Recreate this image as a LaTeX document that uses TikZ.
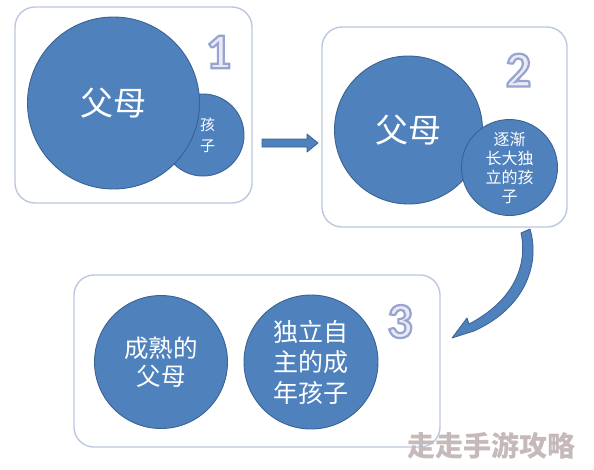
\documentclass[tikz,border=0pt]{standalone}
\usepackage{fontspec}
\newfontfamily\cjk{Noto Sans CJK SC}
\newfontfamily\digitfont{Carlito}
\definecolor{circblue}{HTML}{4F81BD}
\definecolor{circline}{HTML}{3A6293}
\definecolor{boxline}{HTML}{BCC8E0}
\definecolor{digitfill}{HTML}{E8EBF6}
\definecolor{wmark}{HTML}{C6B9BA}
\newcommand{\outlinedigit}[1]{\special{pdf:literal direct 2 Tr 2.2 w 0.60 0.64 0.82 RG}#1\special{pdf:literal direct 0 Tr}}
\begin{document}
\begin{tikzpicture}[x=1pt,y=-1pt,
  stagebox/.style={draw=boxline,line width=1.4pt,rounded corners=20pt,fill=white,inner sep=0pt},
  bigcirc/.style={circle,draw=circline,line width=0.9pt,fill=circblue,inner sep=0pt,text=white,align=center},
  digit/.style={text=digitfill,inner sep=0pt,font=\digitfont\bfseries\fontsize{50}{50}\selectfont},
  blockarrow/.style={fill=circblue,draw=circline,line width=0.8pt,line join=round}]
\useasboundingbox (0,0) rectangle (594,469);
\fill[white] (0,0) rectangle (594,469);
% boxes
\node[stagebox,minimum width=237pt,minimum height=196pt] (box1) at (133.5,105) {};
\node[stagebox,minimum width=245pt,minimum height=200pt] (box2) at (444.5,127) {};
\node[stagebox,minimum width=366pt,minimum height=172pt] (box3) at (257,361) {};
% stage 1
\node[bigcirc,minimum size=82pt,font=\cjk\fontsize{15}{21}\selectfont] (kid1) at (203,135) {\hspace*{9pt}孩\\\hspace*{9pt}子};
\node[bigcirc,minimum size=172pt,font=\cjk\fontsize{33}{40}\selectfont] (par1) at (113.5,103) {父母};
\node[digit] (d1) at (218.5,52) {\outlinedigit{1}};
% stage 2
\node[bigcirc,minimum size=148pt,font=\cjk\fontsize{33}{40}\selectfont] (par2) at (408.5,130) {父母};
\node[bigcirc,minimum size=96pt,font=\cjk\fontsize{16}{19}\selectfont] (kid2) at (509.5,167.5) {逐渐\\长大独\\立的孩\\子};
\node[digit] (d2) at (518.5,70) {\outlinedigit{2}};
% stage 3
\node[bigcirc,minimum size=133pt,font=\cjk\fontsize{24.5}{28}\selectfont] (par3) at (161,362) {成熟的\\父母};
\node[bigcirc,minimum size=134pt,font=\cjk\fontsize{25}{30.5}\selectfont] (kid3) at (311,362) {独立自\\主的成\\年孩子};
\node[digit] (d3) at (400,321.5) {\outlinedigit{3}};
% arrow 1 -> 2
\coordinate (a1s) at (262,143);
\coordinate (a1e) at (318,143);
\draw[blockarrow] (a1s) ++(0,-4) -- ++(45,0) -- ++(0,-5) -- (a1e) -- ++(-11,9) -- ++(0,-5) -- ++(-45,0) -- cycle;
% curved arrow 2 -> 3
\coordinate (a2s) at (526,231);
\coordinate (a2e) at (452,338);
\draw[blockarrow] (521,233) -- (530,229)
   .. controls (540,262) and (527,307) .. (474,331)
   -- (a2e) -- (467,318) -- (469,324)
   .. controls (513,301) and (528,266) .. (521,233) -- cycle;
% watermark
\node[text=wmark,font=\cjk\bfseries\fontsize{28}{28}\selectfont,inner sep=0pt] (wm) at (491,446) {走走手游攻略};
\end{tikzpicture}
\end{document}
